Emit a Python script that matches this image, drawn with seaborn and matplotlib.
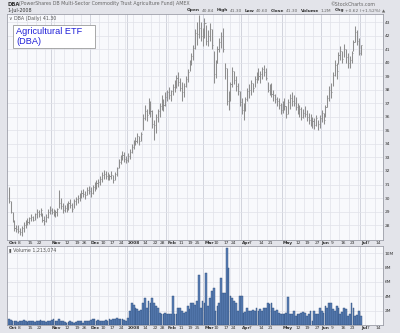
import numpy as np
import pandas as pd
import matplotlib
matplotlib.use('Agg')
import matplotlib.pyplot as plt
from matplotlib.patches import Rectangle
import seaborn as sns

sns.set_theme(style='whitegrid')
plt.rcParams['font.family'] = ['DejaVu Sans']

# ---- data ----
holidays = ['2007-11-22', '2007-12-25', '2008-01-01', '2008-01-21',
            '2008-02-18', '2008-03-21', '2008-05-26', '2008-07-04']
days = pd.bdate_range('2007-10-01', '2008-07-18', freq='C', holidays=holidays)

highs = [30.8, 29.8, 29.0, 28.4, 28.0, 28.0, 27.8, 27.9, 28.2, 28.4, 28.5, 28.6, 28.8, 28.7, 28.9, 29.2, 29.1, 29.3, 28.9, 28.7, 28.8, 29.2, 29.4,
         29.3, 29.2, 29.1, 29.3, 30.6, 30.0, 29.6, 29.5, 29.6, 29.8, 29.9, 29.6, 29.9, 30.1, 30.2, 30.4, 30.6, 30.7, 30.5, 30.8, 30.9,
         30.8, 31.0, 31.2, 31.3, 31.4, 31.6, 31.9, 32.1, 32.0, 31.9, 31.8, 32.0, 31.7, 31.9, 32.3, 32.9, 33.2, 33.5, 33.4, 33.1,
         33.3, 33.6, 34.0, 34.3, 34.5, 34.8, 34.6, 34.9, 36.2, 36.9, 36.6, 37.4, 37.2, 36.5, 35.8, 36.2, 36.6, 37.0, 37.6, 37.3, 37.8,
         38.0, 38.2, 38.0, 38.4, 38.7, 39.1, 39.3, 38.9, 38.6, 38.5, 39.0, 39.5, 40.2, 40.7, 41.3, 42.5, 43.0, 43.5, 43.0, 42.6,
         43.3, 42.8, 42.4, 42.9, 42.5, 40.9, 40.2, 41.2, 41.8, 42.3, 42.6, 40.0, 39.6, 37.9, 38.6, 39.7, 39.4, 39.0, 38.5,
         37.9, 37.4, 37.0, 37.5, 38.1, 38.4, 38.7, 38.5, 39.0, 39.3, 39.6, 39.4, 39.7, 39.8, 39.6, 38.6, 38.4, 38.5, 38.0, 37.7, 37.5, 37.4,
         37.0, 37.2, 37.4, 36.8, 37.3, 37.7, 37.8, 37.6, 37.5, 37.0, 36.9, 36.7, 36.6, 36.8, 36.5, 36.3, 36.2, 36.0, 35.9, 36.1, 35.8,
         36.1, 36.5, 36.3, 36.9, 37.6, 38.3, 38.5, 39.3, 40.2, 40.0, 40.8, 41.2, 40.9, 41.4, 41.0, 40.7, 40.5, 40.9, 41.7, 42.7, 42.4, 41.8,
         41.3]
lows = [29.6, 28.9, 28.2, 27.6, 27.5, 27.4, 27.3, 27.2, 27.5, 27.8, 28.0, 28.1, 28.3, 28.3, 28.4, 28.5, 28.6, 28.7, 28.2, 28.0, 28.2, 28.5, 28.8,
        28.8, 28.7, 28.6, 28.7, 29.3, 29.2, 28.9, 29.0, 29.0, 29.1, 29.3, 29.0, 29.3, 29.5, 29.6, 29.8, 30.0, 30.1, 29.9, 30.2, 30.3,
        30.1, 30.3, 30.5, 30.7, 30.8, 31.0, 31.2, 31.4, 31.4, 31.3, 31.3, 31.4, 31.1, 31.3, 31.6, 32.2, 32.5, 32.8, 32.7, 32.6,
        32.7, 32.9, 33.3, 33.6, 33.9, 34.1, 33.9, 34.2, 35.0, 35.8, 35.7, 36.2, 36.0, 35.2, 34.3, 34.8, 35.6, 36.0, 36.5, 36.4, 36.8,
        37.2, 37.3, 37.2, 37.6, 37.8, 38.1, 38.3, 37.9, 37.2, 37.5, 38.2, 38.6, 39.4, 39.8, 40.2, 41.0, 41.3, 41.8, 41.6, 41.2,
        41.8, 41.3, 41.2, 41.6, 41.0, 38.5, 38.9, 40.0, 40.8, 41.1, 40.8, 38.8, 36.9, 36.5, 37.2, 38.2, 38.4, 37.9, 37.6,
        36.8, 36.2, 35.8, 36.4, 37.2, 37.4, 37.6, 37.8, 38.2, 38.5, 38.7, 38.5, 38.8, 39.0, 38.7, 37.8, 37.6, 37.5, 37.2, 37.0, 36.8, 36.6,
        36.2, 36.3, 36.5, 35.9, 36.2, 36.6, 36.8, 36.8, 36.5, 36.2, 36.0, 35.8, 35.9, 36.0, 35.7, 35.5, 35.3, 35.2, 35.1, 35.3, 35.0,
        35.2, 35.6, 35.5, 36.0, 36.7, 37.2, 37.4, 38.3, 39.0, 38.8, 39.9, 40.2, 40.0, 40.4, 40.0, 39.6, 39.6, 40.0, 40.9, 41.5, 41.3, 40.6,
        40.6]
closes = [29.8, 29.0, 28.3, 27.8, 27.7, 27.6, 27.5, 27.8, 28.0, 28.3, 28.2, 28.5, 28.6, 28.4, 28.8, 29.0, 28.8, 29.1, 28.4, 28.3, 28.6, 29.0, 29.1,
          29.0, 28.9, 29.0, 29.2, 29.6, 29.4, 29.1, 29.3, 29.4, 29.6, 29.5, 29.2, 29.8, 29.9, 30.0, 30.2, 30.4, 30.3, 30.2, 30.6, 30.5,
          30.4, 30.8, 31.0, 31.1, 31.2, 31.4, 31.7, 31.8, 31.6, 31.5, 31.6, 31.7, 31.3, 31.8, 32.2, 32.7, 33.0, 33.2, 32.9, 32.8,
          33.1, 33.4, 33.8, 34.1, 34.2, 34.6, 34.2, 34.7, 35.9, 36.4, 36.1, 37.0, 36.4, 35.5, 35.4, 36.0, 36.4, 36.8, 37.2, 36.9, 37.5,
          37.8, 37.6, 37.9, 38.2, 38.5, 38.9, 38.6, 38.1, 37.8, 38.3, 38.8, 39.3, 40.0, 40.5, 41.1, 42.2, 42.1, 42.6, 42.0, 42.3,
          42.9, 41.6, 42.0, 42.5, 41.3, 39.2, 40.0, 41.0, 41.5, 42.0, 41.0, 39.6, 37.2, 37.6, 38.4, 39.4, 38.7, 38.3, 37.9,
          37.1, 36.5, 36.8, 37.3, 37.9, 38.0, 38.5, 38.1, 38.8, 39.1, 39.0, 39.2, 39.5, 39.3, 38.9, 38.0, 38.2, 37.7, 37.6, 37.3, 37.2, 36.9,
          36.5, 37.0, 36.8, 36.2, 37.1, 37.4, 37.2, 37.0, 36.7, 36.4, 36.6, 36.0, 36.3, 36.2, 36.0, 35.8, 35.6, 35.7, 35.4, 35.9, 35.5,
          35.9, 36.3, 35.8, 36.7, 37.4, 38.0, 37.8, 39.1, 39.8, 39.4, 40.6, 40.9, 40.3, 41.0, 40.4, 40.0, 40.2, 40.7, 41.5, 42.3, 41.6, 40.7,
          41.3]
volumes = [0.8, 0.7, 0.5, 0.6, 0.5, 0.4, 0.6, 0.5, 0.7, 0.6, 0.4, 0.5, 0.6, 0.5, 0.4, 0.6, 0.5, 0.7, 0.5, 0.6, 0.4, 0.5, 0.6,
           0.7, 0.8, 0.6, 0.5, 0.9, 0.6, 0.5, 0.4, 0.3, 0.4, 0.5, 0.4, 0.3, 0.4, 0.5, 0.6, 0.5, 0.3, 0.5, 0.6, 0.5,
           0.7, 0.9, 0.8, 0.6, 0.7, 0.5, 0.6, 0.5, 0.7, 0.6, 0.8, 0.7, 0.8, 0.9, 1.0, 0.9, 0.8, 0.9, 0.7, 0.5,
           1.0, 2.0, 3.0, 2.8, 2.3, 2.2, 2.0, 2.1, 3.1, 3.8, 2.4, 3.4, 3.0, 3.8, 3.1, 2.7, 2.4, 1.7, 1.6, 1.5, 1.7,
           1.6, 1.5, 1.5, 4.1, 1.5, 1.6, 2.4, 2.3, 1.9, 1.7, 1.8, 2.7, 2.2, 3.1, 3.0, 2.8, 3.4,
           6.9, 2.3, 3.4, 3.1, 7.2, 2.7, 3.8, 4.8, 5.1, 2.0, 2.7, 3.0, 6.5, 4.4, 4.4, 10.7, 8.0, 4.1, 3.8, 3.4, 3.1, 2.0, 4.1, 4.1,
           1.7, 1.8, 2.3, 2.0, 1.9, 2.1, 2.0, 2.3, 2.0, 2.2, 2.0, 2.3, 2.4, 3.0, 2.9, 3.0, 2.3, 2.0, 2.1, 1.7, 1.5,
           1.6, 1.5, 1.7, 3.9, 1.5, 1.6, 2.0, 1.3, 1.6, 1.5, 1.7, 1.8, 1.7, 1.3, 1.5, 1.9, 0.6, 2.0, 1.6, 1.5, 2.3,
           2.0, 1.7, 2.7, 2.4, 3.1, 3.0, 2.2, 2.0, 2.7, 2.4, 1.5, 1.8, 2.4, 2.2, 1.3, 1.5, 3.0, 2.4, 1.3, 1.4, 2.0, 1.2]

tick_dates = ['2007-10-01', '2007-10-08', '2007-10-15', '2007-10-22', '2007-11-01', '2007-11-12', '2007-11-19',
              '2007-11-26', '2007-12-03', '2007-12-10', '2007-12-17', '2007-12-24', '2008-01-02', '2008-01-14',
              '2008-01-22', '2008-01-28', '2008-02-01', '2008-02-11', '2008-02-19', '2008-02-25', '2008-03-03',
              '2008-03-10', '2008-03-17', '2008-03-24', '2008-04-01', '2008-04-07', '2008-04-14', '2008-04-21',
              '2008-05-01', '2008-05-12', '2008-05-19', '2008-05-27', '2008-06-02', '2008-06-09', '2008-06-16',
              '2008-06-23', '2008-07-01', '2008-07-07', '2008-07-14']
tick_labels = ['Oct', '8', '15', '22', 'Nov', '12', '19', '26', 'Dec', '10', '17', '24', '2008', '14', '22', '28',
               'Feb', '11', '19', '25', 'Mar', '10', '17', '24', 'Apr', '7', '14', '21', 'May', '12', '19', '27',
               'Jun', '9', '16', '23', 'Jul', '7', '14']
price_ticks = list(range(28, 44))
vol_ticks = [2, 4, 6, 8, 10]
vol_labels = ['2M', '4M', '6M', '8M', '10M']
header = [('Open', '40.84'), ('High', '41.30'), ('Low', '40.60'), ('Close', '41.30'),
          ('Volume', '1.2M'), ('Chg', '+0.62 (+1.52%) \u25b2')]

assert len(highs) == len(lows) == len(closes) == len(volumes) == 190

df = pd.DataFrame({'day': np.arange(len(highs)), 'high': highs, 'low': lows,
                   'close': closes, 'volume': volumes})
pos = {d: i for i, d in enumerate(days)}
tick_pos = [pos[pd.Timestamp(d)] for d in tick_dates]

# weekly / monthly grid positions from the calendar
week_lines, month_lines = [], []
for i in range(1, len(days)):
    if days[i].month != days[i - 1].month:
        month_lines.append(i)
    elif days[i].weekday() < days[i - 1].weekday():
        week_lines.append(i)

W, H = 400, 333
BG = '#e3e4ea'
PLOT_BG = '#f8f9fc'
GRID = '#e0e2e9'
MGRID = '#cbcdd7'
XMIN, XMAX = -1.0, 200.9

fig = plt.figure(figsize=(W / 100, H / 100), dpi=100, facecolor=BG)
ax = fig.add_axes([7 / W, 1 - 240 / H, 376 / W, 226 / H])
axv = fig.add_axes([7 / W, 1 - 325 / H, 376 / W, 79 / H])

for a in (ax, axv):
    a.set_facecolor(PLOT_BG)
    for s in a.spines.values():
        s.set_color('#9c9ea8')
        s.set_linewidth(0.6)
    a.grid(False)
    for x in week_lines:
        a.axvline(x - 0.5, color=GRID, lw=0.5, zorder=0)
    for x in month_lines:
        a.axvline(x - 0.5, color=MGRID, lw=0.6, zorder=0)

# ---- price bars ----
for y in price_ticks:
    ax.axhline(y, color=GRID, lw=0.5, zorder=0)
ax.vlines(df['day'], df['low'], df['high'], color='#8e8e8e', lw=0.75, zorder=2)
ax.hlines(df['close'], df['day'], df['day'] + 0.6, color='#8e8e8e', lw=0.6, zorder=2)
ax.set_xlim(XMIN, XMAX)
ax.set_ylim(26.9, 43.6)
ax.yaxis.tick_right()
ax.set_yticks(price_ticks)
ax.set_yticklabels([str(v) for v in price_ticks])
ax.text(0.006, 0.992, '\u2228 DBA (Daily) 41.30', transform=ax.transAxes, fontsize=3.4,
        color='#555555', va='top', ha='left')

# ---- volume bars ----
for y in vol_ticks:
    axv.axhline(y, color=GRID, lw=0.5, zorder=0)
sns.barplot(data=df, x='day', y='volume', native_scale=True, color='#5a80b6', saturation=1,
            edgecolor='#2b4a78', linewidth=0.3, width=0.95, errorbar=None, ax=axv, zorder=2)
axv.set_xlim(XMIN, XMAX)
axv.set_ylim(0, 11.0)
axv.yaxis.tick_right()
axv.set_yticks(vol_ticks)
axv.set_yticklabels(vol_labels)
axv.set_xlabel('')
axv.set_ylabel('')
axv.text(0.006, 0.985, '\u25ae Volume 1,213,074', transform=axv.transAxes, fontsize=3.4,
         color='#555555', va='top', ha='left')

for a in (ax, axv):
    a.set_xticks(tick_pos)
    a.set_xticklabels(tick_labels, ha='left')
    a.tick_params(axis='both', length=0, labelsize=3.2, colors='#333333', pad=1)
    a.tick_params(axis='x', pad=0.8)
    for lab in a.get_xticklabels():
        if not lab.get_text().isdigit() or lab.get_text() == '2008':
            lab.set_fontweight('bold')

# ---- header texts ----
def ftext(px, py, s, **kw):
    kw.setdefault('fontsize', 3.4)
    kw.setdefault('color', '#333333')
    return fig.text(px / W, 1 - py / H, s, va='center', ha=kw.pop('ha', 'left'), **kw)

ftext(7, 4, 'DBA', fontweight='bold', fontsize=3.8)
ftext(19, 4, '(PowerShares DB Multi-Sector Commodity Trust Agriculture Fund) AMEX', color='#666666')
ftext(7, 10.5, '1-Jul-2008')
ftext(375, 4, '\u00a9StockCharts.com', ha='right', color='#666666')

# quote line, laid out left to right from measured text widths
renderer = fig.canvas.get_renderer()
px = 187
for name, val in header:
    for s, b in ((name, True), (val, False)):
        t = ftext(px, 10.5, s, fontsize=3.2, fontweight='bold' if b else 'normal',
                  color='#333333' if b else '#666666')
        px += t.get_window_extent(renderer).width + (1.5 if b else 2.8)

# ---- annotation box ----
fig.patches.append(Rectangle((13 / W, 1 - 48 / H), 82 / W, 23 / H, transform=fig.transFigure,
                             facecolor='white', edgecolor='#9a9a9a', lw=0.6, zorder=5))
fig.text(16 / W, 1 - 27 / H, 'Agricultural ETF\n(DBA)', ha='left', va='top', fontsize=6.6,
         color='#2020d8', family=['Liberation Sans'], linespacing=1.15, zorder=6)

fig.savefig('out.png', dpi=100, facecolor=BG)
